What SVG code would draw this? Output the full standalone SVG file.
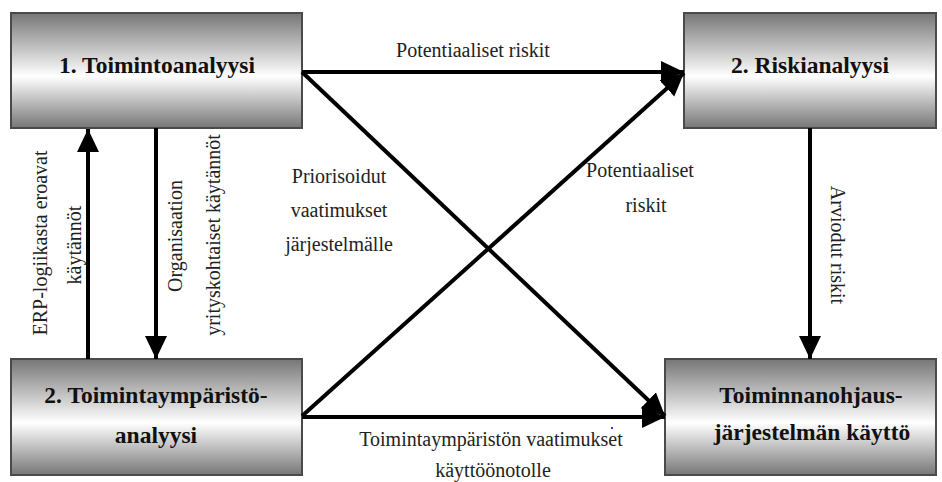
<svg xmlns="http://www.w3.org/2000/svg" width="942" height="482" viewBox="0 0 942 482">
<style>
.box{fill:url(#g);stroke:#4a4a4a;stroke-width:2}
.bt{font-family:"Liberation Serif","Times New Roman",serif;font-weight:bold;font-size:23.5px;fill:#111;text-anchor:middle}
.lt{font-family:"Liberation Serif","Times New Roman",serif;font-size:20px;fill:#222;text-anchor:middle}
.ln{stroke:#000;stroke-width:4;fill:none}
</style>
<defs>
<linearGradient id="g" x1="0" y1="0" x2="0" y2="1">
<stop offset="0" stop-color="#767676"/>
<stop offset="0.55" stop-color="#ffffff"/>
<stop offset="1" stop-color="#767676"/>
</linearGradient>
<marker id="ah" markerUnits="userSpaceOnUse" markerWidth="24" markerHeight="24" refX="23" refY="11" orient="auto" viewBox="0 0 24 22">
<path d="M0,0 L23,11 L0,22 Z" fill="#000"/>
</marker>
</defs>
<g id="n1"><rect class="box" x="11" y="13" width="291" height="115"/><text class="bt" x="157" y="73">1. Toimintoanalyysi</text></g>
<g id="n2"><rect class="box" x="684" y="13" width="252" height="115"/><text class="bt" x="810" y="73">2. Riskianalyysi</text></g>
<g id="n3"><rect class="box" x="11" y="359" width="291" height="116"/><text class="bt" x="156" y="403">2. Toimintaympäristö-</text><text class="bt" x="156" y="443">analyysi</text></g>
<g id="n4"><rect class="box" x="665" y="359" width="271" height="116"/><text class="bt" x="811" y="403">Toiminnanohjaus-</text><text class="bt" x="812" y="440">järjestelmän käyttö</text></g>
<g id="connectors">
<line class="ln" x1="302" y1="72" x2="684" y2="72" marker-end="url(#ah)"/>
<line class="ln" x1="302" y1="416" x2="684" y2="73" marker-end="url(#ah)"/>
<line class="ln" x1="302" y1="72" x2="665" y2="416" marker-end="url(#ah)"/>
<line class="ln" x1="302" y1="417" x2="665" y2="417" marker-end="url(#ah)"/>
<line class="ln" x1="88" y1="359" x2="88" y2="129" marker-end="url(#ah)"/>
<line class="ln" x1="156" y1="128" x2="156" y2="359" marker-end="url(#ah)"/>
<line class="ln" x1="810" y1="128" x2="810" y2="359" marker-end="url(#ah)"/>
</g>
<g id="labels">
<text class="lt" x="473" y="57">Potentiaaliset riskit</text>
<text class="lt" x="339" y="183">Priorisoidut</text>
<text class="lt" x="339" y="217">vaatimukset</text>
<text class="lt" x="339" y="251">järjestelmälle</text>
<text class="lt" x="640" y="177">Potentiaaliset</text>
<text class="lt" x="646" y="212">riskit</text>
<text class="lt" x="491" y="446">Toimintaympäristön vaatimukset</text>
<text class="lt" x="493" y="477">käyttöönotolle</text>
<text class="lt" transform="translate(47,243) rotate(-90)">ERP-logiikasta eroavat</text>
<text class="lt" transform="translate(81,245) rotate(-90)">käytännöt</text>
<text class="lt" transform="translate(182,236) rotate(-90)">Organisaation</text>
<text class="lt" transform="translate(220,235) rotate(-90)">yrityskohtaiset käytännöt</text>
<text class="lt" transform="translate(831,245) rotate(90)">Arviodut riskit</text>
</g>
<rect x="611" y="427" width="2" height="2" fill="#3333ff"/>
</svg>
